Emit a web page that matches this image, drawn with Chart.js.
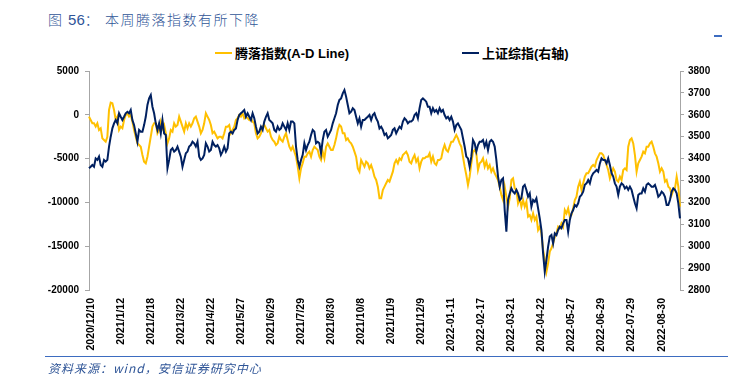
<!DOCTYPE html>
<html>
<head>
<meta charset="utf-8">
<script src="https://cdn.jsdelivr.net/npm/chart.js@4/dist/chart.umd.min.js"></script>
<style>
  html, body { margin: 0; padding: 0; background: #fff; }
  #wrap { position: relative; width: 741px; height: 381px; overflow: hidden; }
  #c { position: absolute; left: 0; top: 0; }
  .title { position: absolute; left: 48px; top: 9px; font: 300 14px "Noto Sans CJK SC", "Liberation Sans", sans-serif; color: #2F5597; letter-spacing: 1.5px; white-space: nowrap; }
  .title .num { font-family: "Liberation Sans", Arial, sans-serif; font-size: 15px; letter-spacing: 0; }
  .legend { position: absolute; top: 43px; font: bold 13px "Liberation Sans", "Noto Sans CJK SC", sans-serif; color: #000; white-space: nowrap; display: flex; align-items: center; }
  .legend i { display: inline-block; width: 17px; height: 2px; margin-right: 3px; }
  .foot { position: absolute; left: 48px; top: 359px; font: italic 12px "Noto Sans CJK SC", "Liberation Sans", sans-serif; color: #2F5597; letter-spacing: 1px; white-space: nowrap; }
  .rule { position: absolute; left: 45px; top: 356px; width: 683px; height: 1px; background: #3D6CC0; }
  .dash { position: absolute; left: 714px; top: 35px; width: 8px; height: 2px; background: #3D6CC0; }
</style>
</head>
<body>
<div id="wrap">
  <div class="title">图 <span class="num">56</span>：&nbsp;本周腾落指数有所下降</div>
  <div class="dash"></div>
  <div class="legend" style="left:215px"><i style="background:#FFC000"></i>腾落指数(A-D Line)</div>
  <div class="legend" style="left:462px"><i style="background:#002060"></i>上证综指(右轴)</div>
  <canvas id="c" width="741" height="381"></canvas>
  <div class="rule"></div>
  <div class="foot">资料来源：wind，安信证券研究中心</div>
</div>
<script>
const tickLabels = ['2020/12/10','2021/1/12','2021/2/18','2021/3/22','2021/4/22','2021/5/27','2021/6/29','2021/7/29','2021/8/30','2021/10/8','2021/11/9','2021/12/9','2022-01-11','2022-02-17','2022-03-21','2022-04-22','2022-05-27','2022-06-29','2022-07-29','2022-08-30'];

const adLine = [
-210,-590,-970,-970,-1350,-970,-1730,-1540,-2690,-2880,
-3070,-2500,550,1390,1310,550,-590,-210,-1730,-1350,
-1540,-590,-20,170,-210,-20,-780,-1730,-2500,-3260,
-3450,-3640,-4590,-5350,-5540,-4780,-3640,-2500,-1350,-970,
-970,-2110,-1730,-780,-1540,-1160,-2110,-3260,-2690,-1730,
-1920,-970,-1350,-1160,-210,-780,-1350,-1920,-970,-1540,
-970,-1350,-970,-400,-210,-780,-1350,-2110,-1730,-970,
170,-210,-590,-1160,-2110,-1920,-2300,-2690,-2500,-2500,
-2690,-2110,-1350,-1350,-1160,-2110,-1730,-1350,-590,-400,
-20,-210,170,-400,-210,-400,-590,-400,-780,-970,
-2110,-2690,-2500,-2110,-1350,-1160,-1540,-1920,-1730,-2500,
-2880,-3070,-3450,-3260,-2500,-2880,-3070,-2500,-2110,-2880,
-3640,-4020,-3640,-4210,-4780,-5920,-7250,-6110,-5540,-4780,
-4780,-4400,-4210,-4780,-4020,-3640,-3830,-4020,-4780,-5160,
-4210,-4970,-3640,-3260,-3640,-4020,-4020,-3450,-2690,-1730,
-1160,-1350,-2110,-2110,-2880,-2690,-3070,-3260,-3640,-4210,
-4780,-6110,-6490,-5160,-5540,-5920,-5350,-5540,-6110,-5730,
-6300,-7060,-7440,-8200,-9540,
-9540,-8580,-8200,-7820,-7440,-7630,-7060,-6490,-5540,-5160,
-5540,-4970,-5160,-4590,-4400,-4210,-4590,-5350,-5540,-4970,
-4590,-5350,-4970,-6110,-5350,-4970,-4970,-4780,-4780,-4400,
-5350,-4780,-5540,-5730,-5160,-5160,-4970,-4020,-3450,-4020,
-4210,-3640,-3070,-3070,-2690,-2300,-2690,-3260,-3640,-4780,
-5920,-6870,-8010,-7060,-5540,-4210,-4020,-4400,-6300,-5540,
-5350,-4970,-5920,-5350,-6110,-5730,-6490,-6110,-6680,-7060,
-7440,-8200,-9150,-9730,-8200,-9350,-10490,-9540,-7440,-7250,
-8390,-8580,-10110,-9540,-10490,-9730,-10490,-9920,-11630,-11440,
-12010,-11250,-12010,-11630,-13150,-12770,-13530,-15430,-16570,-17910,
-16950,-15620,-15240,-14670,-13910,-13530,-12770,-12960,-12390,-12770,
-10870,-11250,-10680,-11630,-11440,-10680,-9730,-9350,-8200,-7630,
-8580,-7820,-7060,-6680,-6680,-6300,-5920,-5730,-5920,-5160,
-4780,-4400,-4400,-4590,-5160,-5730,-6300,-7250,-6680,-6110,
-6490,-7440,-7630,-7060,-7440,-6300,-6110,-6300,-3640,-2880,
-2690,-3260,-4590,-6490,-5540,-5160,-4780,-4210,-4400,-3640,
-3640,-3260,-3070,-3640,-4400,-4780,-5540,-6490,-6110,-6490,
-7630,-7440,-8200,-8390,-9150,-8580,-8390,-7060,-8200,-10490
];

const shIndex = [
3356,3363,3371,3363,3401,3394,3409,3371,3363,3394,
3386,3394,3455,3500,3538,3561,3576,3561,3607,3591,
3576,3591,3607,3614,3607,3622,3576,3553,3515,3477,
3531,3523,3523,3553,3591,3645,3675,3690,3637,3607,
3561,3531,3561,3515,3576,3515,3508,3356,3394,3439,
3447,3432,3439,3455,3432,3409,3363,3394,3424,3432,
3455,3462,3477,3470,3455,3477,3409,3394,3401,3417,
3470,3455,3432,3439,3477,3462,3455,3462,3447,3417,
3432,3455,3432,3447,3515,3523,3515,3531,3538,3576,
3599,3607,3614,3622,3591,3607,3591,3576,3607,3584,
3546,3515,3523,3546,3531,3569,3591,3607,3576,3569,
3561,3531,3523,3546,3531,3538,3561,3546,3531,3561,
3531,3569,3569,3561,3455,3394,3363,3394,3417,3470,
3439,3462,3477,3508,3531,3523,3470,3477,3470,3424,
3485,3523,3531,3500,3515,3531,3561,3584,3607,3645,
3668,3675,3698,3713,3683,3645,3607,3614,3630,3622,
3591,3561,3584,3546,3576,3576,3584,3591,3599,3576,
3599,3607,3584,3569,3538,
3546,3531,3508,3515,3493,3500,3508,3531,3538,3515,
3531,3546,3538,3569,3584,3576,3561,3569,3569,3576,
3599,3607,3584,3630,3668,3675,3668,3660,3637,3637,
3607,3630,3614,3622,3607,3630,3614,3622,3599,3584,
3591,3576,3591,3569,3531,3553,3561,3546,3531,3493,
3455,3409,3401,3363,3409,3485,3470,3432,3462,3477,
3477,3485,3455,3477,3439,3477,3485,3477,3455,3394,
3318,3272,3302,3310,3165,3066,3211,3241,3264,3249,
3241,3257,3241,3211,3219,3272,3280,3257,3226,3241,
3181,3211,3203,3219,3173,3127,3074,2967,2884,2937,
2998,3044,3051,3013,3059,3051,3074,3089,3082,3104,
3120,3120,3066,3120,3150,3165,3188,3181,3196,3226,
3234,3249,3280,3287,3302,3287,3318,3333,3340,3348,
3340,3378,3401,3394,3394,3378,3401,3371,3333,3318,
3287,3272,3234,3272,3287,3280,3264,3272,3257,3272,
3257,3226,3196,3173,3234,3241,3241,3264,3249,3280,
3287,3280,3272,3272,3280,3257,3226,3234,3249,3241,
3226,3188,3188,3211,3249,3264,3257,3241,3196,3127
];

const labelEvery = 18;
const categories = adLine.map((_, i) => (i % labelEvery === 1 && tickLabels[(i - 1) / labelEvery]) ? tickLabels[(i - 1) / labelEvery] : '');

const tickFont = { family: '"Liberation Sans", Arial, sans-serif', size: 10, weight: 'bold' };
const xFont = { family: '"Liberation Sans", Arial, sans-serif', size: 10.5, weight: 'bold' };
const axisGray = '#A6A6A6';
const plain = v => String(v);

new Chart(document.getElementById('c'), {
  type: 'line',
  data: {
    labels: categories,
    datasets: [
      { label: '腾落指数(A-D Line)', data: adLine, yAxisID: 'y', borderColor: '#FFC000', backgroundColor: '#FFC000', borderWidth: 2, pointRadius: 0, tension: 0, order: 1 },
      { label: '上证综指(右轴)', data: shIndex, yAxisID: 'y1', borderColor: '#002060', backgroundColor: '#002060', borderWidth: 2, pointRadius: 0, tension: 0, order: 0 }
    ]
  },
  options: {
    responsive: false,
    animation: false,
    devicePixelRatio: 1,
    layout: { padding: { top: 71, left: 0, right: 0, bottom: 0 } },
    plugins: { legend: { display: false }, tooltip: { enabled: false }, title: { display: false } },
    scales: {
      x: {
        type: 'category',
        grid: { display: false, drawTicks: false },
        border: { display: false },
        ticks: { autoSkip: false, maxRotation: 90, minRotation: 90, padding: 8, font: xFont, color: '#000' },
        afterFit: s => { s.height = 91; }
      },
      y: {
        position: 'left',
        min: -20000, max: 5000,
        ticks: { stepSize: 5000, padding: 6, font: tickFont, color: '#000', callback: plain },
        grid: { drawOnChartArea: false, tickLength: 4, color: axisGray },
        border: { color: axisGray },
        afterFit: s => { s.width = 89; }
      },
      y1: {
        position: 'right',
        min: 2800, max: 3800,
        ticks: { stepSize: 100, padding: 4, font: tickFont, color: '#000', callback: plain },
        grid: { drawOnChartArea: false, tickLength: 4, color: axisGray },
        border: { color: axisGray },
        afterFit: s => { s.width = 61; }
      }
    }
  }
});
</script>
</body>
</html>
